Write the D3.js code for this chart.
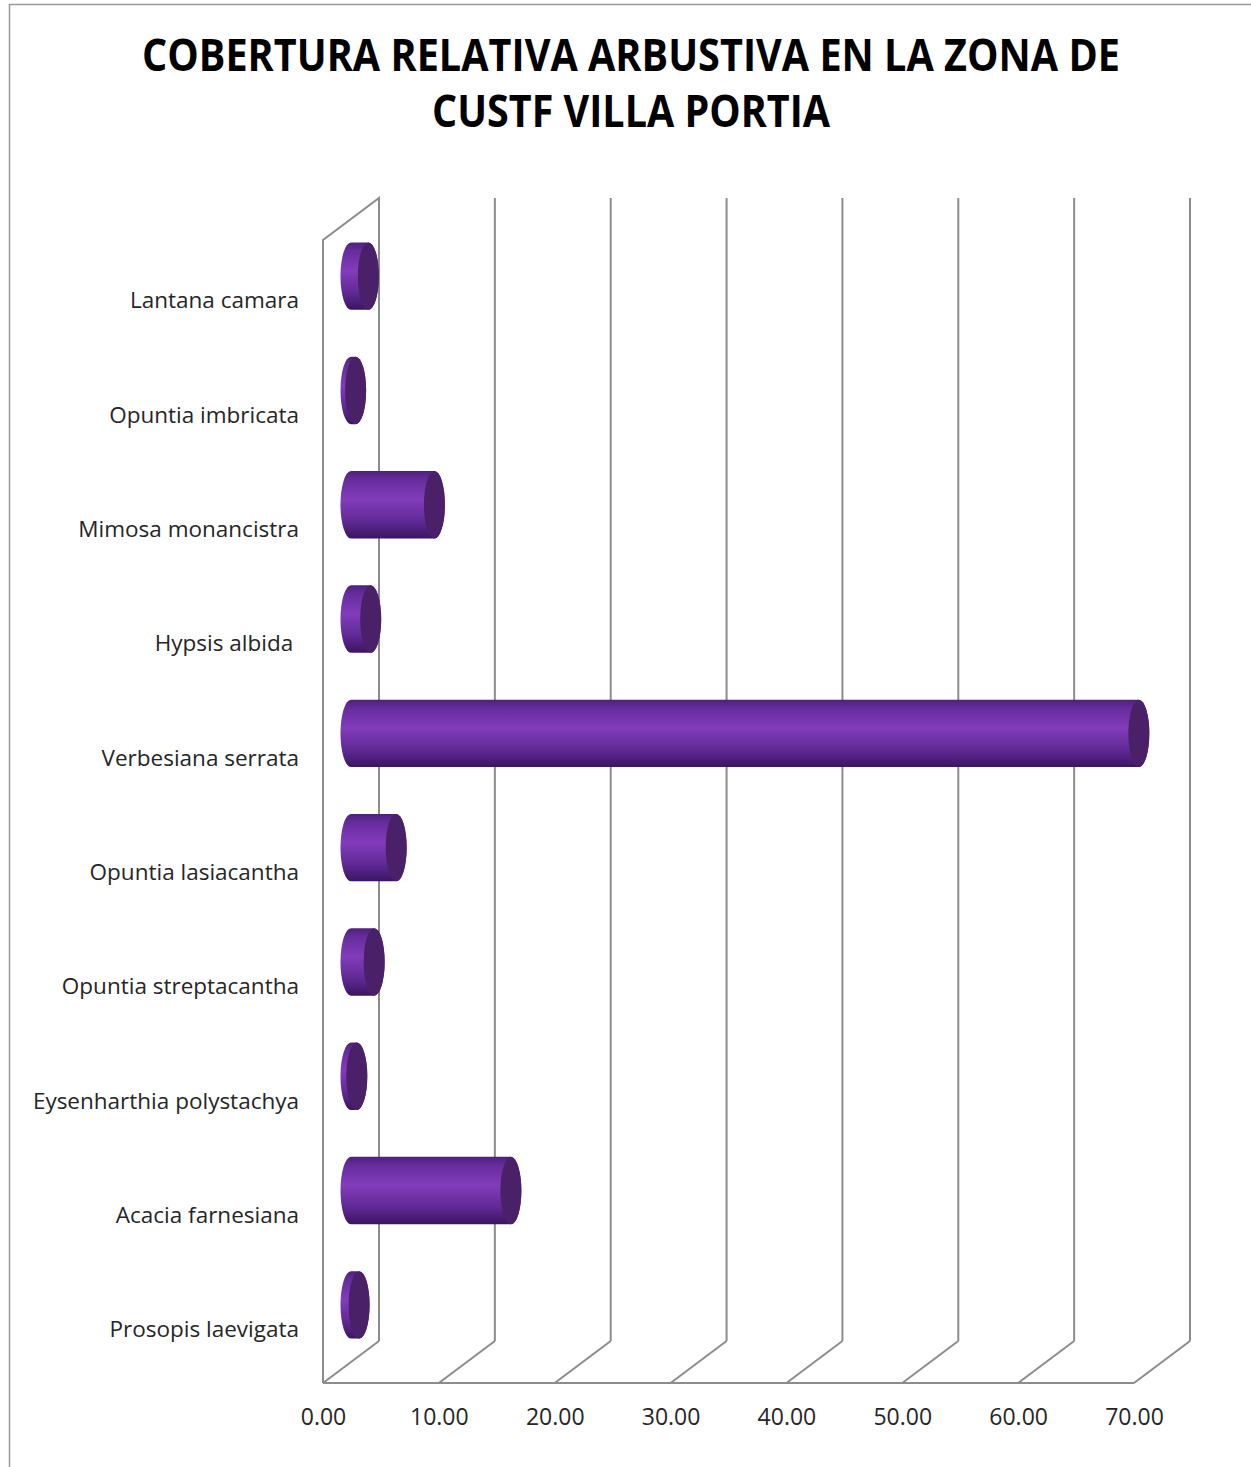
<!DOCTYPE html>
<html>
<head>
<meta charset="utf-8">
<script src="https://cdn.jsdelivr.net/npm/d3@7/dist/d3.min.js"></script>
<style>
  html, body { margin: 0; padding: 0; background: #fff; }
  svg text { white-space: pre; }
</style>
</head>
<body>
<svg id="chart" width="1251" height="1467"></svg>
<script>
// Species, top to bottom as drawn
const species = [
  "Lantana camara",
  "Opuntia imbricata",
  "Mimosa monancistra",
  "Hypsis albida ",
  "Verbesiana serrata",
  "Opuntia lasiacantha",
  "Opuntia streptacantha",
  "Eysenharthia polystachya",
  "Acacia farnesiana",
  "Prosopis laevigata"
];
// Relative cover (%)
const cover = [1.5, 0.4, 7.2, 1.7, 68.0, 3.9, 2.0, 0.5, 13.8, 0.7];
const xTicks = [0, 10, 20, 30, 40, 50, 60, 70];
const titleLines = ["COBERTURA RELATIVA ARBUSTIVA EN LA ZONA DE", "CUSTF VILLA PORTIA"];

const svg = d3.select("#chart");
const font = "'Open Sans', 'Noto Sans', sans-serif";
const gridColor = "#8c8c8c";

// 3D depth offset of the back walls
const depthX = 56, depthY = -42;

const x = d3.scaleLinear().domain([0, 70]).range([323, 1134]);
const y = d3.scaleBand().domain(species).range([240, 1383]).paddingInner(0).paddingOuter(0);

// Outer chart frame
svg.append("rect")
  .attr("x", 9.5).attr("y", 4.5).attr("width", 1260).attr("height", 1480)
  .attr("fill", "none").attr("stroke", "#9a9a9a").attr("stroke-width", 1.5);

// Title
svg.append("g").selectAll("text").data(titleLines).join("text")
  .attr("x", 631).attr("y", (d, i) => 71 + i * 56)
  .attr("text-anchor", "middle")
  .attr("font-family", font).attr("font-weight", 700).attr("font-size", 44)
  .attr("textLength", (d, i) => i === 0 ? 978 : 398)
  .attr("lengthAdjust", "spacingAndGlyphs")
  .attr("fill", "#000")
  .text(d => d);

const grid = svg.append("g").attr("stroke", gridColor).attr("stroke-width", 2).attr("fill", "none");
const plotTop = y.range()[0], plotBottom = y.range()[1];

// Left wall outline
grid.append("path")
  .attr("d", `M${x(0)},${plotBottom} L${x(0)},${plotTop} L${x(0) + depthX},${plotTop + depthY} L${x(0) + depthX},${plotBottom + depthY}`);

// Back-wall vertical gridlines
grid.selectAll(".vgrid").data(xTicks).join("line")
  .attr("class", "vgrid")
  .attr("x1", d => x(d) + depthX).attr("x2", d => x(d) + depthX)
  .attr("y1", plotTop + depthY).attr("y2", plotBottom + depthY);

// Floor: front edge and depth lines
grid.append("line")
  .attr("x1", x(0)).attr("x2", x(70)).attr("y1", plotBottom).attr("y2", plotBottom);
grid.selectAll(".floor").data(xTicks).join("line")
  .attr("class", "floor")
  .attr("x1", d => x(d)).attr("y1", plotBottom)
  .attr("x2", d => x(d) + depthX).attr("y2", plotBottom + depthY);

// Cylinder shading
const defs = svg.append("defs");
const grad = defs.append("linearGradient").attr("id", "cyl")
  .attr("x1", 0).attr("y1", 0).attr("x2", 0).attr("y2", 1);
[[0, "#4e2179"], [0.12, "#652c9c"], [0.42, "#823cbb"], [0.75, "#5f2994"], [1, "#3a1560"]]
  .forEach(([o, c]) => grad.append("stop").attr("offset", o).attr("stop-color", c));

// Cylinders sit half-way into the depth
const midX = depthX / 2, midY = depthY / 2;
const barH = y.bandwidth() * 0.59;
const ry = barH / 2, rx = 10.5;

const bars = svg.append("g").selectAll("g").data(species.map((s, i) => ({ s, v: cover[i] }))).join("g");
bars.append("path")
  .attr("fill", "url(#cyl)")
  .attr("d", d => {
    const cy = y(d.s) + y.bandwidth() / 2 + midY;
    const x0 = x(0) + midX, x1 = x(d.v) + midX;
    const yt = cy - ry, yb = cy + ry;
    return `M${x0},${yt} L${x1},${yt} A${rx},${ry} 0 0 1 ${x1},${yb} L${x0},${yb} A${rx},${ry} 0 0 1 ${x0},${yt} Z`;
  });
bars.append("ellipse")
  .attr("cx", d => x(d.v) + midX)
  .attr("cy", d => y(d.s) + y.bandwidth() / 2 + midY)
  .attr("rx", rx).attr("ry", ry)
  .attr("fill", "#4a2068");

// Value axis labels
const xAxis = svg.append("g")
  .attr("transform", `translate(0,${plotBottom})`)
  .call(d3.axisBottom(x).tickValues(xTicks).tickFormat(d3.format(".2f")).tickSize(0).tickPadding(26));
xAxis.select(".domain").remove();
xAxis.selectAll("text").attr("font-family", font).attr("font-size", 23).attr("fill", "#262626");

// Category labels
const yAxis = svg.append("g")
  .attr("transform", `translate(${x(0)},0)`)
  .call(d3.axisLeft(y).tickSize(0).tickPadding(24));
yAxis.select(".domain").remove();
yAxis.selectAll("text").attr("font-family", font).attr("font-size", 22.5).attr("fill", "#262626")
  .attr("dy", "0.5em");
</script>
</body>
</html>
